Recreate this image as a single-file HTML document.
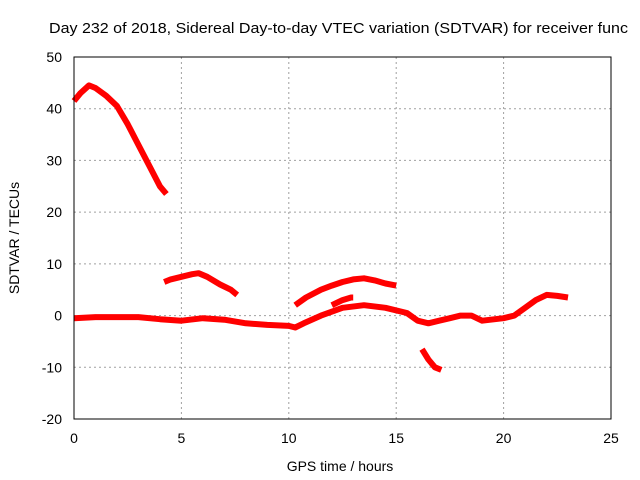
<!DOCTYPE html>
<html><head><meta charset="utf-8"><style>
body{margin:0;background:#fff}
svg{display:block;font-family:"Liberation Sans",sans-serif}
</style></head><body>
<svg id="c" width="640" height="480">
<rect width="640" height="480" fill="#fff"/>
<text x="49" y="33" font-size="15" textLength="579" lengthAdjust="spacingAndGlyphs" fill="#000">Day 232 of 2018, Sidereal Day-to-day VTEC variation (SDTVAR) for receiver func</text>
<g id="grid"></g>
<g id="series"></g>
<rect x="74" y="57" width="537" height="362" fill="none" stroke="#000" stroke-width="1"/>
<g id="ticks"></g>
<text x="340" y="471" font-size="14" text-anchor="middle">GPS time / hours</text>
<text transform="translate(19,238) rotate(-90)" font-size="14" text-anchor="middle">SDTVAR / TECUs</text>
</svg>
<script>
const xTicks=[0,5,10,15,20,25];
const yTicks=[-20,-10,0,10,20,30,40,50];
const seg1X=[0,0.3,0.7,1,1.5,2,2.5,3,3.5,4,4.3];
const seg1Y=[41.5,43,44.5,44,42.5,40.5,37,33,29,25,23.5];
const seg2X=[4.2,4.5,5,5.5,5.8,6.2,6.8,7.3,7.6];
const seg2Y=[6.5,7,7.5,8,8.2,7.5,6,5,4];
const seg3X=[0,1,2,3,4,5,6,7,8,9,10,10.3,10.7,11.5,12.5,13.5,14.5,15.5,16,16.5,17,17.5,18,18.5,19,20,20.5,21,21.5,22,22.5,23];
const seg3Y=[-0.5,-0.3,-0.3,-0.3,-0.7,-1,-0.5,-0.8,-1.5,-1.8,-2,-2.3,-1.5,0,1.5,2,1.5,0.5,-1,-1.5,-1,-0.5,0,0,-1,-0.5,0,1.5,3,4,3.8,3.5];
const seg4X=[10.3,10.8,11.5,12,12.5,13,13.5,14,14.5,15];
const seg4Y=[2,3.5,5,5.8,6.5,7,7.2,6.8,6.2,5.8];
const seg5X=[12,12.5,12.9,13];
const seg5Y=[2,3,3.5,3.5];
const seg6X=[16.2,16.5,16.8,17.1];
const seg6Y=[-6.5,-8.5,-10,-10.5];
const X0=74,X1=611,Y0=419,Y1=57;
const xs=v=>X0+(v-0)/25*(X1-X0);
const ys=v=>Y0-(v+20)/70*(Y0-Y1);
const NS="http://www.w3.org/2000/svg";
const grid=document.getElementById('grid'),ticks=document.getElementById('ticks'),ser=document.getElementById('series');
function mk(tag,attrs,parent){const e=document.createElementNS(NS,tag);for(const k in attrs)e.setAttribute(k,attrs[k]);parent.appendChild(e);return e;}
xTicks.forEach(t=>{const x=xs(t);
 if(t>0&&t<25){const g=mk('line',{x1:x,x2:x,y1:Y1,y2:Y0,stroke:'#a0a0a0','stroke-dasharray':'2,3'},grid);
 
 }
 const l=mk('text',{x:x,y:Y0+24,'font-size':14,'text-anchor':'middle'},ticks);l.textContent=t;
 
 
});
yTicks.forEach(t=>{const y=ys(t);
 if(t>-20&&t<50){const g=mk('line',{x1:X0,x2:X1,y1:y,y2:y,stroke:'#a0a0a0','stroke-dasharray':'2,3'},grid);
 
 }
 const l=mk('text',{x:X0-12,y:y+5,'font-size':14,'text-anchor':'end'},ticks);l.textContent=t;
 
 
});
[[seg1X,seg1Y],[seg2X,seg2Y],[seg3X,seg3Y],[seg4X,seg4Y],[seg5X,seg5Y],[seg6X,seg6Y]].forEach((s,i)=>{
 const pts=s[0].map((v,j)=>xs(v).toFixed(1)+','+ys(s[1][j]).toFixed(1)).join(' ');
 const p=mk('polyline',{points:pts,fill:'none',stroke:'#ff0000','stroke-width':6,'stroke-linejoin':'round','stroke-linecap':'butt'},ser);
 
 
});
</script>
</body></html>
